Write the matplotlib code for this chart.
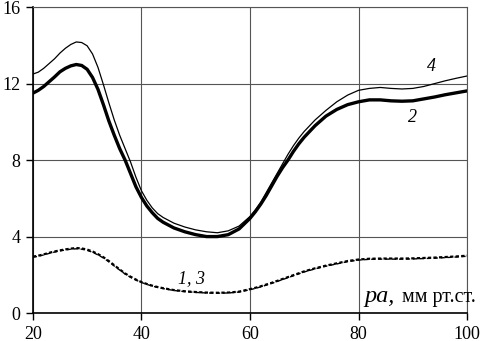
import matplotlib.pyplot as plt

plt.rcParams['font.family'] = ['Liberation Serif', 'DejaVu Serif']

# Pressure, mm Hg
pa = ([20, 21, 22, 23, 24, 25, 26, 27, 28, 29, 30, 31, 32, 33, 34, 35, 36, 37, 38, 39,
       40, 41, 42, 43, 44, 45, 46]
      + [48, 50, 52, 54, 56, 58, 60]
      + [61, 62, 63, 64, 65, 66, 67, 68, 69]
      + [70, 72, 74, 76, 78, 80, 82, 84, 86, 88, 90, 92, 94, 96, 98, 100])

curve4 = ([12.5, 12.6, 12.8, 13.05, 13.3, 13.6, 13.85, 14.05, 14.18, 14.15, 13.98, 13.55,
           12.85, 11.95, 11.0, 10.1, 9.3, 8.6, 7.9, 7.1, 6.4, 5.9, 5.5, 5.2, 5.0, 4.85, 4.7]
          + [4.5, 4.35, 4.25, 4.2, 4.3, 4.55, 5.05]
          + [5.4, 5.8, 6.3, 6.8, 7.3, 7.8, 8.3, 8.75, 9.15]
          + [9.5, 10.1, 10.6, 11.05, 11.4, 11.65, 11.75, 11.8, 11.75, 11.72, 11.75, 11.85,
             12.0, 12.15, 12.28, 12.4])
curve2 = ([11.5, 11.65, 11.85, 12.1, 12.35, 12.62, 12.8, 12.93, 13.0, 12.95, 12.75, 12.32,
           11.7, 10.9, 10.05, 9.3, 8.6, 8.0, 7.3, 6.6, 6.05, 5.6, 5.25, 4.95, 4.75, 4.6, 4.45]
          + [4.25, 4.1, 4.0, 4.0, 4.1, 4.4, 4.95]
          + [5.3, 5.7, 6.15, 6.65, 7.15, 7.6, 8.0, 8.45, 8.85]
          + [9.2, 9.8, 10.3, 10.65, 10.9, 11.05, 11.15, 11.15, 11.1, 11.08, 11.1, 11.2,
             11.3, 11.42, 11.52, 11.62])
curve1 = ([2.95, 3.0, 3.07, 3.15, 3.22, 3.28, 3.33, 3.37, 3.4, 3.38, 3.32, 3.22, 3.08,
           2.92, 2.72, 2.5, 2.28, 2.07, 1.9, 1.75, 1.62, 1.52, 1.43, 1.36, 1.3, 1.25, 1.2]
          + [1.14, 1.1, 1.07, 1.06, 1.07, 1.12, 1.25]
          + [1.32, 1.4, 1.49, 1.58, 1.68, 1.78, 1.88, 1.98, 2.08]
          + [2.18, 2.34, 2.48, 2.6, 2.72, 2.8, 2.84, 2.85, 2.85, 2.85, 2.86, 2.88, 2.9,
             2.93, 2.96, 3.0])
curve3 = ([2.92, 2.97, 3.04, 3.12, 3.19, 3.25, 3.3, 3.34, 3.36, 3.34, 3.28, 3.18, 3.04,
           2.88, 2.68, 2.46, 2.25, 2.04, 1.87, 1.72, 1.6, 1.5, 1.41, 1.34, 1.28, 1.23, 1.18]
          + [1.12, 1.08, 1.05, 1.04, 1.05, 1.1, 1.22]
          + [1.29, 1.37, 1.46, 1.55, 1.65, 1.75, 1.85, 1.95, 2.05]
          + [2.15, 2.31, 2.45, 2.57, 2.69, 2.77, 2.81, 2.82, 2.82, 2.82, 2.83, 2.85, 2.87,
             2.9, 2.93, 2.97])

xticks = [20, 40, 60, 80, 100]
yticks = [0, 4, 8, 12, 16]

fig = plt.figure(figsize=(4.83, 3.41), dpi=100)
ax = fig.add_axes([0.068, 0.082, 0.899, 0.897])

ax.plot(pa, curve4, color='black', lw=0.9)
ax.plot(pa, curve2, color='black', lw=2.4)
ax.plot(pa, curve1, color='black', lw=1.6, linestyle=(0, (1.5, 1.0)))
ax.plot(pa, curve3, color='black', lw=1.0, linestyle=(0, (3, 2)))

ax.set_xlim(20, 100)
ax.set_ylim(0, 16)
ax.set_xticks(xticks)
ax.set_yticks(yticks)
ax.grid(True, color='#555555', lw=0.8)
ax.tick_params(direction='out', length=5, width=1, labelsize=13, pad=4)
for s in ['top', 'right']:
    ax.spines[s].set_color('#555555')
    ax.spines[s].set_linewidth(0.8)
for s in ['left', 'bottom']:
    ax.spines[s].set_linewidth(1.2)

ax.text(93.5, 12.9, '4', fontsize=13, style='italic', ha='center', va='center')
ax.text(90, 10.25, '2', fontsize=13, style='italic', ha='center', va='center')
ax.text(49.2, 1.8, '1, 3', fontsize=13, style='italic', ha='center', va='center')
ax.text(81.0, 0.6, 'pa,', fontsize=17.5, style='italic', ha='left', va='baseline', clip_on=False)
ax.text(88.0, 0.6, 'мм рт.ст.', fontsize=14.5, ha='left', va='baseline', clip_on=False)

fig.savefig('out.png', dpi=100)
